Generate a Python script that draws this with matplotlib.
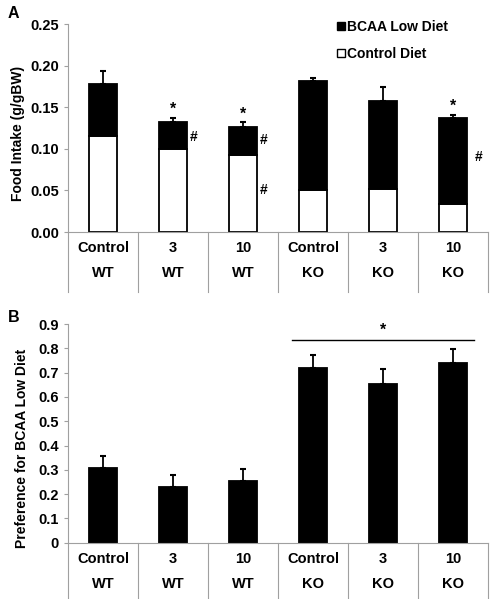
import matplotlib
matplotlib.use("Agg")
import matplotlib.pyplot as plt
from matplotlib.lines import Line2D
import numpy as np

plt.rcParams["font.family"] = ["Liberation Sans", "DejaVu Sans"]
plt.rcParams["font.weight"] = "bold"

# categories
doses = ["Control", "3", "10", "Control", "3", "10"]
genotypes = ["WT", "WT", "WT", "KO", "KO", "KO"]

# panel A: food intake (g/gBW), stacked
control_diet = [0.115, 0.100, 0.093, 0.050, 0.052, 0.034]
bcaa_low_diet = [0.063, 0.032, 0.033, 0.131, 0.105, 0.103]
intake_err = [0.015, 0.005, 0.006, 0.004, 0.017, 0.004]
intake_star = [False, True, True, False, False, True]
# '#' marks: (x position, y value)
hash_marks = [(1.29, 0.114), (2.30, 0.110), (2.30, 0.050), (5.37, 0.090)]

# panel B: preference for BCAA low diet
preference = [0.309, 0.230, 0.254, 0.719, 0.652, 0.741]
pref_err = [0.048, 0.049, 0.049, 0.053, 0.061, 0.056]
ko_group = [3, 5]
ko_star_y = 0.833

GRAY = "#a0a0a0"
FS = 10.5
W = 496
H = 599

fig = plt.figure(figsize=(W / 100, H / 100), dpi=100)
axA = fig.add_axes([68 / W, 1 - 232 / H, 420 / W, 208 / H])
axB = fig.add_axes([68 / W, 1 - 542.7 / H, 420 / W, 218.7 / H])

x = np.arange(len(doses))
bw = 0.41


def style_axis(ax, height_px):
    ax.set_xlim(-0.5, len(doses) - 0.5)
    for s in ["top", "right"]:
        ax.spines[s].set_visible(False)
    ax.spines["left"].set_color(GRAY)
    ax.spines["bottom"].set_color(GRAY)
    ax.tick_params(axis="y", colors=GRAY, length=3, labelsize=FS, labelcolor="black")
    ax.tick_params(axis="x", length=0, labelbottom=False)
    for lab in ax.get_yticklabels():
        lab.set_fontweight("bold")
    # category table below
    r1 = -16 / height_px
    r2 = -41 / height_px
    for i in range(len(doses)):
        ax.text(x[i], r1, doses[i], transform=ax.get_xaxis_transform(), ha="center",
                va="center", fontsize=FS, fontweight="bold")
        ax.text(x[i], r2, genotypes[i], transform=ax.get_xaxis_transform(), ha="center",
                va="center", fontsize=FS, fontweight="bold")
    for xb in np.arange(-0.5, len(doses), 1.0):
        ax.plot([xb, xb], [0, -60 / height_px], transform=ax.get_xaxis_transform(),
                color=GRAY, lw=0.8, clip_on=False)


# ---- panel A
axA.bar(x, control_diet, bw, color="white", edgecolor="black", lw=1.3, zorder=2)
axA.bar(x, bcaa_low_diet, bw, bottom=control_diet, color="black", edgecolor="black",
        lw=1.3, zorder=2)
tot = np.array(control_diet) + np.array(bcaa_low_diet)
axA.errorbar(x, tot, yerr=[np.zeros(len(x)), intake_err], fmt="none", ecolor="black",
             elinewidth=1.3, capsize=2.5, capthick=1.5, zorder=3)
for i in range(len(x)):
    if intake_star[i]:
        axA.text(x[i], tot[i] + intake_err[i] + 0.001, "*", ha="center", va="bottom",
                 fontsize=FS + 1)
for hx, hy in hash_marks:
    axA.text(hx, hy, "#", ha="center", va="center", fontsize=FS - 0.5)
axA.set_ylim(0, 0.25)
axA.set_yticks(np.arange(0, 0.251, 0.05))
axA.set_yticklabels([f"{v:.2f}" for v in np.arange(0, 0.251, 0.05)])
axA.set_ylabel("Food Intake (g/gBW)", fontsize=10, fontweight="bold")
axA.yaxis.set_label_coords(-0.103, 0.476)
style_axis(axA, 208)
handles = [Line2D([], [], marker="s", ls="none", mfc="black", mec="black", ms=6),
           Line2D([], [], marker="s", ls="none", mfc="white", mec="black", ms=6)]
axA.legend(handles, ["BCAA Low Diet", "Control Diet"], loc="upper left",
           bbox_to_anchor=(0.61, 1.08), frameon=False, handlelength=0.6,
           handletextpad=0.15, labelspacing=0.95, prop={"weight": "bold", "size": 10})

# ---- panel B
axB.bar(x, preference, bw, color="black", edgecolor="black", lw=1.3, zorder=2)
axB.errorbar(x, preference, yerr=[np.zeros(len(x)), pref_err], fmt="none", ecolor="black",
             elinewidth=1.3, capsize=2.5, capthick=1.5, zorder=3)
axB.plot([ko_group[0] - 0.3, ko_group[1] + 0.3], [ko_star_y, ko_star_y], color="black", lw=1)
axB.text(np.mean(ko_group), ko_star_y + 0.01, "*", ha="center", va="bottom", fontsize=FS + 1)
axB.set_ylim(0, 0.9)
yt = np.round(np.arange(0, 0.91, 0.1), 1)
axB.set_yticks(yt)
axB.set_yticklabels([f"{v:g}" for v in yt])
axB.set_ylabel("Preference for BCAA Low Diet", fontsize=10, fontweight="bold")
axB.yaxis.set_label_coords(-0.093, 0.431)
style_axis(axB, 218.7)

fig.text(8 / W, 1 - 14 / H, "A", fontsize=11.5, fontweight="bold", va="center")
fig.text(8 / W, 1 - 318 / H, "B", fontsize=11.5, fontweight="bold", va="center")

fig.savefig("out.png", dpi=100)
